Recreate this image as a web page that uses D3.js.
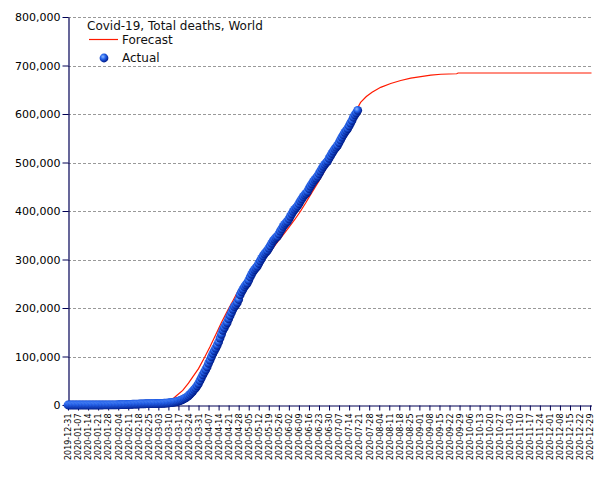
<!DOCTYPE html>
<html><head><meta charset="utf-8">
<script src="https://cdn.jsdelivr.net/npm/d3@7"></script>
<style>body{margin:0;background:#fff}svg{display:block}text{font-family:"DejaVu Sans",sans-serif}</style>
</head><body><svg id="c" width="605" height="480"></svg>
<script>
const chartTitle = "Covid-19, Total deaths, World";
const startDate = "2019-12-31";
const endDate = "2020-12-30";
// Actual cumulative deaths, one value per day starting 2019-12-31
const actualDec = [0];
const actualJan = [0,0,0,0,0,0,0,0,0,1,1,1,1,1,2,2,2,2,3,6,17,18,26,41,56,80,106,132,170,213,259];
const actualFeb = [305,362,426,492,565,638,724,813,910,1018,1115,1369,1383,1526,1669,1775,1873,2009,2126,2247,2360,2460,2618,2699,2763,2800,2858,2923,2977];
const actualMar = [3050,3117,3202,3285,3387,3494,3599,3827,4025,4296,4628,4981,5429,5833,6520,7160,7983,8963,10030,11389,13069,14716,16500,18939,21811,24786,28317,31972,35263,39609,44250];
const actualApr = [50212,56042,62063,67519,72748,78597,85986,92447,99397,105875,111660,117060,123140,129870,138050,145710,154000,159520,165080,169990,177570,184100,190700,197200,202700,206500,211000,217500,227000,233300];
const actualMay = [238600,243800,247900,251500,257200,263900,269600,275000,279300,282700,286200,291800,297200,302400,307400,311800,315000,318500,323300,328100,333500,338400,342200,345300,347700,352800,358400,363000,368200,372300,375500];
const actualJun = [378600,383700,389000,394300,399200,403400,406700,410300,415000,420500,425000,429500,433300,436500,440000,446200,451200,456000,460500,464700,468000,471800,477000,482300,487300,492000,496000,499500,503000,508500];
const actualJul = [513500,518600,523500,527900,531500,535500,541200,546600,552100,557200,562100,566000,570000,575500,581100,586600,593300,598300,602500,607500];
// Forecast: day offset from startDate and value
const forecastDays =   [0,   40,  60,  66,  70,  74,   76,   80,   84,   87,   91,   95,    99,    103,   107,   111,   115,   118,   122,   126,   130,   134,   138,   142,   146,   150,   154,   158,   162,   166,   170,   175,   180,   185,   190,   195,   200,   204,   208,   212,   218,   225,   232,   239,   246,   253,   260,   271,   272,   365];
const forecastValues = [0,   400, 3000,4000,8000,15000,20000,30000,45000,58000,75000,97000,120000,145000,170000,193000,215000,232000,250000,266000,280000,293000,306000,320000,336000,351000,366000,382000,399000,418000,438000,462000,488000,515000,541000,570000,602000,624000,636000,645000,655000,663000,669000,674000,677000,680000,682000,683000,684500,684500];
const yTicks = [0,100000,200000,300000,400000,500000,600000,700000,800000];
const legendLabels = ["Forecast","Actual"];

const actualValues = [].concat(actualDec,actualJan,actualFeb,actualMar,actualApr,actualMay,actualJun,actualJul);
const t0 = d3.utcParse("%Y-%m-%d")(startDate);
const t1 = d3.utcParse("%Y-%m-%d")(endDate);
const actual = actualValues.map((v,i)=>({date:d3.utcDay.offset(t0,i), value:v}));
const forecast = forecastDays.map((d,i)=>({date:d3.utcDay.offset(t0,d), value:forecastValues[i]}));

const svg = d3.select("#c");
const L=68, R=591.5, T=17, B=405;
const x = d3.scaleUtc().domain([t0,t1]).range([L,R]);
const y = d3.scaleLinear().domain([0,800000]).range([B,T]);
const axisColor = "#000055";

const defs = svg.append("defs");
const g = defs.append("radialGradient").attr("id","ball").attr("cx","38%").attr("cy","35%").attr("r","65%");
g.append("stop").attr("offset","0%").attr("stop-color","#8ebcff");
g.append("stop").attr("offset","45%").attr("stop-color","#2563ec");
g.append("stop").attr("offset","100%").attr("stop-color","#001c8a");

// grid
svg.append("g").selectAll("line").data(yTicks.filter(d=>d>0)).join("line")
  .attr("x1",L).attr("x2",R).attr("y1",d=>Math.round(y(d))+0.5).attr("y2",d=>Math.round(y(d))+0.5)
  .attr("stroke","#999").attr("stroke-dasharray","3,2").attr("stroke-width",1);

// axes
const xTickVals = d3.range(0,365,7).map(d=>d3.utcDay.offset(t0,d));
const xAxis = svg.append("g").attr("transform",`translate(0,${B+0.5})`)
  .call(d3.axisBottom(x).tickValues(xTickVals).tickFormat(d3.utcFormat("%Y-%m-%d")).tickSize(5).tickSizeOuter(0));
xAxis.selectAll("text").attr("transform","rotate(-90)").attr("text-anchor","end")
  .attr("x",-8).attr("y",0).attr("dy","0.35em").style("font-size","8px").attr("fill","#000");
const yAxis = svg.append("g").attr("transform",`translate(${L+0.5},0)`)
  .call(d3.axisLeft(y).tickValues(yTicks).tickFormat(d3.format(",")).tickSize(6).tickSizeOuter(0));
yAxis.selectAll("text").style("font-size","11px").attr("fill","#000").attr("x",-8);
[xAxis,yAxis].forEach(a=>{a.selectAll("line,path").attr("stroke",axisColor);a.select(".domain").attr("stroke-width",1.2);});

// forecast line
svg.append("path").datum(forecast)
  .attr("d",d3.line().x(d=>x(d.date)).y(d=>y(d.value)))
  .attr("fill","none").attr("stroke","#ff1a00").attr("stroke-width",1.2);

// actual points
svg.append("g").selectAll("circle").data(actual).join("circle")
  .attr("cx",d=>x(d.date)).attr("cy",d=>y(d.value)).attr("r",4.4).attr("fill","url(#ball)");

// legend
svg.append("text").attr("x",87).attr("y",30).style("font-size","12px").attr("fill","#111").text(chartTitle);
svg.append("line").attr("x1",89).attr("x2",118).attr("y1",39.5).attr("y2",39.5).attr("stroke","#ff1a00").attr("stroke-width",1.2);
svg.append("text").attr("x",122).attr("y",44).style("font-size","12px").attr("fill","#111").text(legendLabels[0]);
svg.append("circle").attr("cx",104).attr("cy",58).attr("r",4.4).attr("fill","url(#ball)");
svg.append("text").attr("x",122).attr("y",62).style("font-size","12px").attr("fill","#111").text(legendLabels[1]);
</script></body></html>
